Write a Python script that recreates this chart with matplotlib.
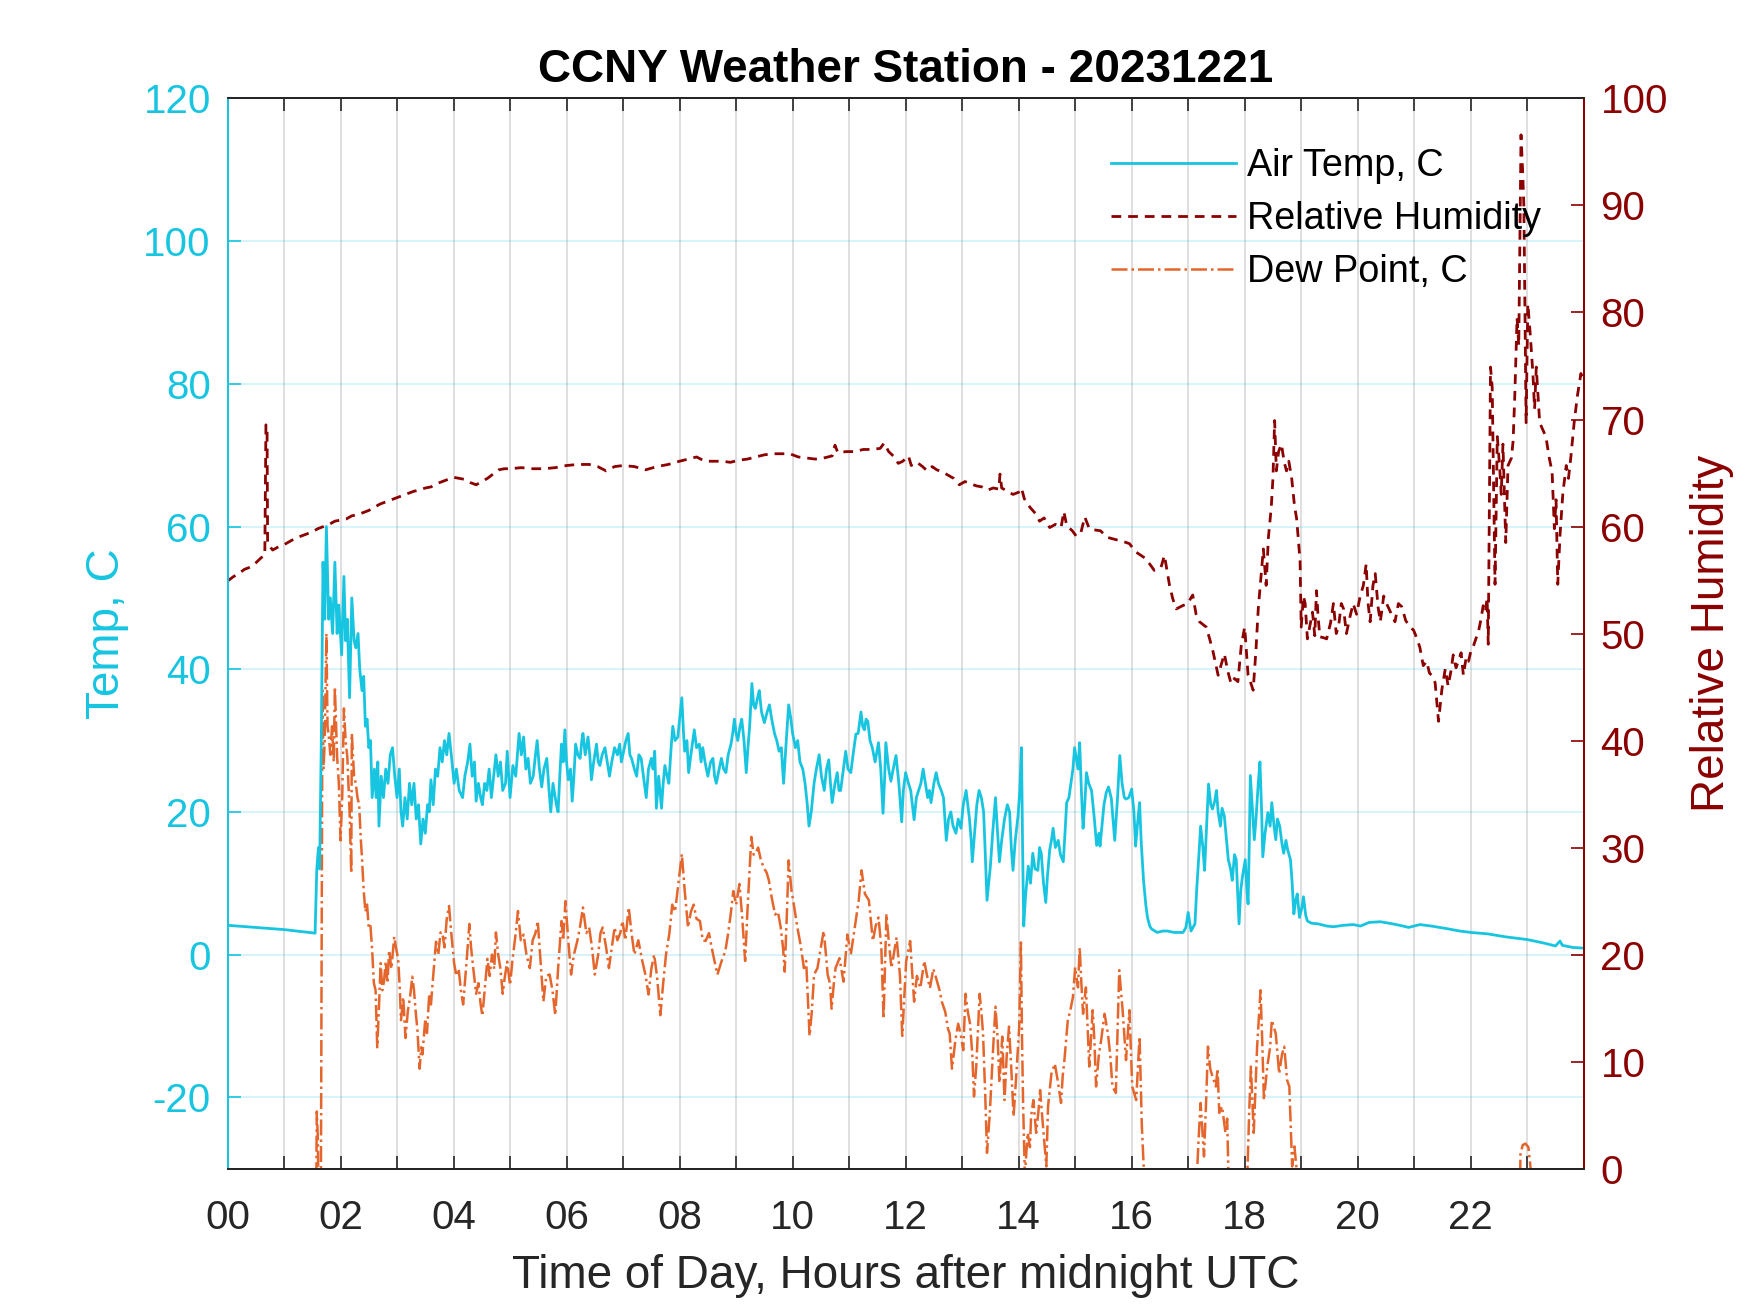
import matplotlib
matplotlib.use("Agg")
import matplotlib.pyplot as plt
from matplotlib.ticker import FixedLocator

# ---------------- data (hours after midnight UTC) ----------------
t_temp = [0.0, 0.5, 1.0, 1.55, 1.58, 1.61, 1.63, 1.66, 1.69, 1.72, 1.75, 1.79, 1.82, 1.86, 1.9, 1.94, 1.97,
          2.02, 2.06, 2.09, 2.12, 2.16, 2.2, 2.24, 2.27, 2.31, 2.34, 2.38, 2.41, 2.44, 2.47, 2.5, 2.53, 2.56,
          2.6, 2.63, 2.66, 2.68, 2.72, 2.76, 2.8, 2.84, 2.88, 2.92, 2.96, 3.0, 3.04, 3.07, 3.1, 3.14, 3.18,
          3.22, 3.26, 3.3, 3.34, 3.38, 3.42, 3.46, 3.5, 3.54, 3.57, 3.6, 3.64, 3.68, 3.72, 3.76, 3.8, 3.84,
          3.88, 3.92, 3.96, 4.01, 4.05, 4.1, 4.16, 4.2, 4.25, 4.29, 4.33, 4.37, 4.4, 4.44, 4.48, 4.51, 4.55,
          4.59, 4.63, 4.67, 4.71, 4.75, 4.79, 4.83, 4.87, 4.92, 4.95, 5.0, 5.05, 5.1, 5.16, 5.2, 5.24, 5.28,
          5.32, 5.36, 5.41, 5.45, 5.48, 5.52, 5.56, 5.6, 5.65, 5.69, 5.72, 5.76, 5.79, 5.82, 5.85, 5.88, 5.91,
          5.94, 5.97, 6.0, 6.03, 6.07, 6.1, 6.13, 6.16, 6.2, 6.24, 6.27, 6.29, 6.33, 6.38, 6.41, 6.44, 6.48,
          6.53, 6.56, 6.59, 6.63, 6.68, 6.72, 6.76, 6.8, 6.85, 6.9, 6.94, 6.97, 7.01, 7.05, 7.09, 7.12, 7.15,
          7.2, 7.24, 7.28, 7.32, 7.36, 7.41, 7.45, 7.5, 7.53, 7.56, 7.59, 7.63, 7.68, 7.71, 7.74, 7.78, 7.81,
          7.85, 7.88, 7.92, 7.97, 8.0, 8.04, 8.07, 8.09, 8.13, 8.16, 8.2, 8.26, 8.3, 8.35, 8.38, 8.41, 8.45,
          8.5, 8.55, 8.59, 8.62, 8.65, 8.7, 8.74, 8.78, 8.82, 8.86, 8.91, 8.94, 8.97, 9.0, 9.03, 9.07, 9.1,
          9.14, 9.18, 9.21, 9.24, 9.28, 9.31, 9.34, 9.38, 9.41, 9.45, 9.5, 9.55, 9.59, 9.63, 9.68, 9.72, 9.76,
          9.8, 9.84, 9.88, 9.93, 9.97, 10.0, 10.05, 10.09, 10.13, 10.18, 10.22, 10.26, 10.29, 10.33, 10.38,
          10.42, 10.47, 10.51, 10.56, 10.6, 10.64, 10.67, 10.7, 10.75, 10.79, 10.82, 10.85, 10.9, 10.94,
          10.98, 11.03, 11.07, 11.12, 11.16, 11.21, 11.24, 11.27, 11.3, 11.33, 11.37, 11.41, 11.46, 11.52,
          11.56, 11.6, 11.63, 11.65, 11.7, 11.74, 11.78, 11.83, 11.88, 11.93, 11.96, 12.0, 12.05, 12.09,
          12.12, 12.15, 12.19, 12.23, 12.27, 12.31, 12.35, 12.39, 12.42, 12.45, 12.5, 12.54, 12.58, 12.63,
          12.67, 12.72, 12.76, 12.8, 12.84, 12.89, 12.93, 12.98, 13.02, 13.07, 13.1, 13.13, 13.16, 13.18,
          13.22, 13.26, 13.3, 13.34, 13.38, 13.41, 13.44, 13.47, 13.5, 13.54, 13.59, 13.62, 13.66, 13.7,
          13.75, 13.8, 13.84, 13.87, 13.9, 13.94, 13.99, 14.02, 14.05, 14.07, 14.09, 14.12, 14.17, 14.21,
          14.25, 14.29, 14.34, 14.37, 14.4, 14.44, 14.48, 14.51, 14.55, 14.58, 14.61, 14.65, 14.7, 14.74,
          14.79, 14.82, 14.85, 14.89, 14.93, 14.96, 14.99, 15.02, 15.05, 15.08, 15.11, 15.14, 15.17, 15.2,
          15.24, 15.29, 15.34, 15.38, 15.42, 15.44, 15.47, 15.51, 15.55, 15.59, 15.64, 15.67, 15.7, 15.75,
          15.79, 15.83, 15.87, 15.9, 15.95, 16.0, 16.04, 16.07, 16.1, 16.14, 16.17, 16.21, 16.25, 16.28,
          16.32, 16.35, 16.45, 16.55, 16.63, 16.75, 16.91, 16.96, 17.0, 17.05, 17.12, 17.15, 17.19, 17.22,
          17.26, 17.29, 17.32, 17.36, 17.4, 17.43, 17.47, 17.5, 17.53, 17.57, 17.6, 17.64, 17.68, 17.71,
          17.75, 17.78, 17.82, 17.85, 17.88, 17.9, 17.93, 17.96, 18.01, 18.04, 18.06, 18.08, 18.1, 18.14,
          18.17, 18.2, 18.24, 18.27, 18.3, 18.32, 18.36, 18.41, 18.45, 18.48, 18.52, 18.55, 18.58, 18.62,
          18.66, 18.69, 18.73, 18.76, 18.81, 18.84, 18.87, 18.9, 18.93, 18.97, 19.01, 19.04, 19.08, 19.11,
          19.18, 19.3, 19.45, 19.57, 19.75, 19.92, 20.05, 20.2, 20.4, 20.62, 20.8, 20.9, 21.1, 21.3, 21.6,
          21.8, 22.0, 22.3, 22.6, 23.0, 23.3, 23.5, 23.58, 23.62, 23.8, 24.0]
temp = [4.1, 3.8, 3.5, 3.0, 12, 15, 12, 30, 55, 47, 60, 47, 50, 45, 55, 45, 49,
        42, 53, 44, 47, 36, 50, 44, 43, 45, 40, 37, 39, 32, 33, 29, 30, 22,
        26, 22, 27, 18, 25, 22, 26, 24, 28, 29, 25, 22, 26, 20, 18, 22, 19,
        24, 21, 24, 19, 21, 15.5, 19, 17, 21, 20, 24.5, 21, 26, 25, 29, 27, 30,
        28, 31, 28, 24, 26, 23, 22, 25, 27, 29.5, 25, 27, 21.5, 24, 22, 21, 24,
        23, 26, 22, 25, 28, 25, 27, 23, 24, 28.5, 22, 26.5, 25, 31, 28, 30.5, 26,
        27.5, 24, 25, 28, 30, 26, 23.5, 26, 27.5, 23, 20, 24, 22.5, 21, 20, 25, 29.5,
        27, 31.5, 27, 24.5, 26, 21.5, 25, 29.5, 28, 27.5, 30, 31, 28, 30.5, 28, 24.5, 27,
        29.5, 27, 26.5, 28, 29, 27, 25, 27, 29, 28, 29.5, 27, 28.5, 30, 31, 28, 27.5,
        26, 25, 28, 27.5, 25, 22, 26, 27.5, 26, 28.5, 20.5, 25, 20.5, 24, 26.5, 25, 24,
        29, 32, 30, 30.5, 33, 36, 31, 28.5, 30, 25.5, 28, 31.5, 29, 29.5, 27, 29, 27,
        25, 27, 27.5, 25, 24, 26, 27.5, 26, 25.5, 28, 29.5, 31, 33, 31, 30, 32, 33,
        30, 25.5, 29, 32, 38, 35, 34.5, 36, 37, 34, 32.5, 34, 35, 33, 31, 30, 28.5,
        29, 24, 29, 35, 33, 31, 29, 30, 27, 26, 24, 21, 18, 20, 24,
        26, 28, 25, 23, 26, 27.3, 24, 21.3, 24, 25.5, 23, 23, 26, 28.5,
        26, 25.5, 28, 30.9, 31, 34, 32, 31.5, 33, 32.7, 30, 29, 27, 29.7,
        26, 19.8, 25, 29.7, 26, 24.3, 26, 27.9, 24, 18.6, 23, 25.5, 24, 23,
        21, 18.9, 22, 23, 24, 26, 24, 22, 23, 21.3, 24, 25.5, 24, 23,
        22, 16, 19, 20, 18, 17, 19, 17.7, 21, 23, 21, 19, 16, 13,
        17, 21, 23, 22, 20, 14, 7.6, 10, 12.4, 17, 22, 18, 13, 16,
        19, 21, 20, 15, 11.8, 16, 19.5, 23, 29, 15, 4, 8, 12.4, 10,
        14.2, 12, 11.8, 15, 14.2, 10, 7.3, 11, 14.7, 16, 17.7, 15, 16, 14,
        13, 17, 21.3, 22, 24.3, 26, 29, 27.5, 26, 29.7, 23, 17.7, 21, 25.5,
        24, 23, 19, 15.3, 17, 15.2, 17.7, 21, 22.7, 23.5, 21.9, 19, 16, 22,
        27.9, 24, 22, 21.8, 22, 23.2, 20, 15.2, 18, 21.3, 15.6, 10.4, 7, 5.2,
        4, 3.6, 3.1, 3.3, 3.3, 3.1, 3.1, 3.8, 5.9, 3.3, 4.3, 9, 14, 18,
        15, 11.8, 17, 23.9, 21, 20.4, 21.5, 23, 20, 18, 20.5, 19.4, 16, 13.3,
        12, 10.4, 14, 13.3, 8, 4.3, 9, 10.9, 13.3, 9, 7.1, 15, 25.1, 20,
        16.1, 19, 24, 27, 20, 13.7, 17, 19.9, 18, 21.3, 18, 16.1, 19, 18,
        15.5, 14.2, 16, 14.7, 13.3, 10, 5.7, 7.5, 8.5, 5.2, 6.5, 8.1, 5.5, 4.7,
        4.4, 4.3, 4.0, 3.9, 4.1, 4.2, 4.0, 4.5, 4.6, 4.3, 4.0, 3.8, 4.2, 4.0, 3.6,
        3.3, 3.1, 2.9, 2.5, 2.1, 1.6, 1.2, 1.9, 1.3, 1.0, 0.9]

t_rh = [0.0, 0.1, 0.2, 0.3, 0.4, 0.5, 0.6, 0.66, 0.68, 0.7, 0.71, 0.8, 0.9, 1.0, 1.1, 1.2, 1.3, 1.4,
        1.5, 1.6, 1.7, 1.8, 1.9, 2.0, 2.1, 2.2, 2.3, 2.4, 2.5, 2.6, 2.7, 2.8, 2.9, 3.0, 3.1, 3.2, 3.3,
        3.4, 3.5, 3.6, 3.7, 3.8, 3.9, 4.0, 4.1, 4.2, 4.3, 4.4, 4.5, 4.6, 4.7, 4.8, 4.9, 5.0, 5.2, 5.4,
        5.6, 5.8, 6.0, 6.2, 6.4, 6.55, 6.7, 6.85, 7.0, 7.2, 7.4, 7.6, 7.8, 8.0, 8.15, 8.3, 8.45, 8.6,
        8.75, 8.9, 9.05, 9.2, 9.35, 9.5, 9.65, 9.8, 9.95, 10.1, 10.25, 10.4, 10.55, 10.7, 10.75, 10.8,
        10.95, 11.1, 11.25, 11.4, 11.55, 11.62, 11.7, 11.8, 11.87, 11.95, 12.05, 12.1, 12.2, 12.3,
        12.38, 12.47, 12.55, 12.65, 12.75, 12.85, 12.95, 13.05, 13.15, 13.25, 13.35, 13.45, 13.55,
        13.65, 13.67, 13.7, 13.8, 13.9, 14.0, 14.05, 14.1, 14.2, 14.3, 14.37, 14.45, 14.55, 14.65,
        14.75, 14.8, 14.85, 14.95, 15.02, 15.1, 15.17, 15.25, 15.32, 15.45, 15.56, 15.7, 15.85, 15.96,
        16.08, 16.25, 16.4, 16.52, 16.58, 16.67, 16.73, 16.79, 16.9, 16.99, 17.08, 17.14, 17.2, 17.32,
        17.38, 17.44, 17.53, 17.58, 17.64, 17.7, 17.76, 17.82, 17.88, 17.94, 18.0, 18.06, 18.1, 18.15,
        18.2, 18.24, 18.3, 18.33, 18.38, 18.42, 18.47, 18.5, 18.53, 18.56, 18.6, 18.65, 18.7, 18.74,
        18.78, 18.83, 18.88, 18.92, 18.98, 19.0, 19.04, 19.07, 19.11, 19.15, 19.2, 19.24, 19.27, 19.3,
        19.33, 19.4, 19.45, 19.52, 19.57, 19.62, 19.66, 19.71, 19.75, 19.8, 19.86, 19.92, 19.98, 20.04,
        20.1, 20.15, 20.18, 20.22, 20.27, 20.31, 20.36, 20.4, 20.46, 20.51, 20.58, 20.66, 20.72, 20.78,
        20.85, 20.93, 20.99, 21.05, 21.1, 21.16, 21.22, 21.27, 21.31, 21.37, 21.43, 21.49, 21.55, 21.6,
        21.65, 21.69, 21.74, 21.78, 21.83, 21.87, 21.92, 21.96, 22.0, 22.04, 22.09, 22.13, 22.18, 22.22,
        22.26, 22.29, 22.31, 22.35, 22.38, 22.43, 22.47, 22.51, 22.54, 22.57, 22.62, 22.66, 22.72, 22.75,
        22.78, 22.82, 22.85, 22.89, 22.92, 22.94, 22.98, 23.01, 23.05, 23.1, 23.13, 23.16, 23.22, 23.28,
        23.33, 23.39, 23.44, 23.48, 23.51, 23.54, 23.58, 23.63, 23.69, 23.73, 23.77, 23.83, 23.89, 23.95,
        23.99]
rh = [54.9, 55.3, 55.6, 56.0, 56.2, 56.6, 57.1, 57.3, 69.5, 69.0, 58.4, 57.8, 58.1, 58.3, 58.6, 58.9, 59.1, 59.3,
      59.5, 59.8, 60.0, 60.2, 60.5, 60.6, 60.7, 61.0, 61.1, 61.3, 61.5, 61.8, 62.1, 62.3, 62.5, 62.7, 62.9, 63.1, 63.3,
      63.4, 63.6, 63.7, 64.0, 64.2, 64.4, 64.6, 64.5, 64.4, 64.1, 63.9, 64.2, 64.5, 64.9, 65.3, 65.4, 65.4, 65.5, 65.4,
      65.4, 65.5, 65.7, 65.8, 65.8, 65.6, 65.2, 65.6, 65.7, 65.6, 65.3, 65.6, 65.8, 66.1, 66.3, 66.5, 66.1, 66.1,
      66.1, 66.0, 66.2, 66.3, 66.5, 66.7, 66.8, 66.8, 66.8, 66.5, 66.4, 66.3, 66.4, 66.6, 67.6, 66.9,
      67.0, 67.0, 67.2, 67.2, 67.3, 67.8, 67.0, 66.5, 65.9, 66.1, 66.6, 65.7, 66.0, 65.6,
      65.2, 65.6, 65.3, 65.1, 64.8, 64.5, 63.9, 64.2, 64.0, 63.8, 63.7, 63.4, 63.6,
      63.5, 64.9, 63.6, 63.3, 63.0, 63.2, 63.6, 62.6, 61.8, 61.2, 60.5, 60.8, 59.9, 60.2,
      59.9, 61.4, 60.1, 59.6, 59.1, 59.4, 60.9, 59.8, 59.7, 59.6, 59.0, 58.8, 58.6, 58.4,
      57.6, 57.0, 55.9, 56.2, 57.3, 54.5, 53.2, 52.3, 52.6, 52.8, 53.6, 51.8, 51.1, 50.6,
      49.5, 48.3, 46.1, 47.0, 48.1, 46.5, 45.3, 45.8, 45.5, 48.9, 50.6, 46.1, 45.5, 44.7,
      48.5, 52.3, 56.0, 57.9, 54.5, 59.0, 61.8, 64.5, 69.9, 65.2, 67.0, 67.7, 66.0, 65.2,
      66.1, 64.6, 62.0, 60.7, 56.8, 50.6, 53.5, 52.8, 49.5, 50.6, 52.0, 49.8, 54.0, 51.5,
      49.7, 49.6, 49.5, 51.0, 52.8, 50.0, 50.6, 52.8, 52.3, 50.0, 51.5, 52.8, 51.8, 53.4,
      54.5, 56.5, 53.0, 51.1, 54.5, 55.6, 52.5, 51.1, 53.5, 52.8, 52.0, 51.1, 52.8, 52.5,
      51.2, 50.6, 50.3, 49.5, 48.7, 47.0, 47.4, 46.3, 46.1, 45.4, 41.8, 44.8, 46.7, 45.1,
      46.5, 48.0, 46.8, 47.4, 48.2, 46.1, 47.8, 47.4, 48.3, 48.7, 49.5, 50.0, 51.3, 52.6,
      52.0, 53.3, 49.0, 74.9, 73.0, 54.6, 68.4, 65.7, 63.0, 67.7, 58.5, 65.7, 66.4, 68.0,
      72.3, 79.5, 76.9, 96.6, 93.0, 90.0, 69.7, 80.8, 78.2, 74.3, 71.0, 74.9, 69.7, 69.0,
      68.4, 66.4, 65.1, 59.8, 62.5, 54.6, 59.2, 63.1, 65.7, 64.5, 66.4, 69.7, 72.3, 74.3,
      73.6]

t_dew = [0.0, 1.56, 1.58, 1.6, 1.62, 1.65, 1.68, 1.7, 1.72, 1.75, 1.77, 1.79, 1.82, 1.85, 1.88, 1.9, 1.94,
         1.97, 2.0, 2.03, 2.06, 2.09, 2.12, 2.16, 2.19, 2.2, 2.24, 2.27, 2.3, 2.33, 2.36, 2.38, 2.41, 2.44,
         2.47, 2.5, 2.53, 2.56, 2.59, 2.62, 2.65, 2.68, 2.71, 2.74, 2.77, 2.8, 2.83, 2.86, 2.9, 2.95, 2.98,
         3.02, 3.05, 3.07, 3.11, 3.15, 3.19, 3.23, 3.27, 3.3, 3.33, 3.36, 3.4, 3.43, 3.45, 3.5, 3.53, 3.57,
         3.6, 3.64, 3.69, 3.73, 3.77, 3.8, 3.84, 3.88, 3.92, 3.96, 4.01, 4.05, 4.09, 4.13, 4.17, 4.21, 4.24,
         4.28, 4.31, 4.35, 4.4, 4.44, 4.48, 4.51, 4.55, 4.6, 4.64, 4.68, 4.72, 4.75, 4.79, 4.83, 4.87, 4.91,
         4.95, 5.0, 5.04, 5.1, 5.14, 5.19, 5.24, 5.29, 5.35, 5.4, 5.45, 5.49, 5.54, 5.59, 5.64, 5.7, 5.75,
         5.8, 5.85, 5.91, 5.94, 5.98, 6.03, 6.08, 6.13, 6.19, 6.24, 6.29, 6.35, 6.4, 6.45, 6.5, 6.56, 6.6,
         6.64, 6.7, 6.75, 6.8, 6.85, 6.9, 6.95, 6.99, 7.04, 7.1, 7.15, 7.2, 7.27, 7.34, 7.4, 7.45, 7.5,
         7.55, 7.6, 7.66, 7.71, 7.76, 7.82, 7.87, 7.92, 7.97, 8.04, 8.09, 8.15, 8.2, 8.25, 8.3, 8.36, 8.41,
         8.46, 8.52, 8.57, 8.62, 8.67, 8.74, 8.81, 8.86, 8.91, 8.95, 9.0, 9.06, 9.11, 9.16, 9.2, 9.24, 9.27,
         9.31, 9.34, 9.39, 9.44, 9.5, 9.54, 9.58, 9.63, 9.69, 9.74, 9.79, 9.83, 9.86, 9.9, 9.93, 9.98,
         10.03, 10.08, 10.14, 10.2, 10.24, 10.3, 10.34, 10.38, 10.44, 10.5, 10.55, 10.59, 10.62, 10.66,
         10.69, 10.73, 10.76, 10.83, 10.9, 10.97, 11.03, 11.1, 11.17, 11.22, 11.28, 11.35, 11.42, 11.47,
         11.52, 11.57, 11.61, 11.66, 11.7, 11.75, 11.84, 11.9, 11.94, 12.01, 12.08, 12.15, 12.2, 12.26,
         12.33, 12.38, 12.43, 12.49, 12.54, 12.6, 12.64, 12.7, 12.75, 12.78, 12.82, 12.84, 12.88, 12.93,
         12.97, 13.02, 13.06, 13.1, 13.14, 13.18, 13.21, 13.25, 13.31, 13.34, 13.37, 13.41, 13.44, 13.49,
         13.55, 13.59, 13.63, 13.66, 13.71, 13.75, 13.79, 13.83, 13.87, 13.91, 13.96, 14.01, 14.04, 14.06,
         14.08, 14.11, 14.16, 14.2, 14.22, 14.26, 14.31, 14.35, 14.38, 14.43, 14.49, 14.52, 14.55, 14.58,
         14.64, 14.69, 14.75, 14.78, 14.81, 14.87, 14.91, 14.96, 15.0, 15.05, 15.08, 15.11, 15.14, 15.19,
         15.22, 15.25, 15.31, 15.34, 15.37, 15.42, 15.46, 15.52, 15.58, 15.62, 15.66, 15.72, 15.78, 15.84,
         15.9, 15.96, 16.01, 16.08, 16.14, 16.18, 16.22, 16.26, 17.12, 17.16, 17.19, 17.22, 17.28, 17.32,
         17.35, 17.39, 17.43, 17.49, 17.52, 17.55, 17.6, 17.66, 17.69, 17.71, 17.74, 18.02, 18.05, 18.08,
         18.11, 18.16, 18.22, 18.28, 18.31, 18.34, 18.4, 18.45, 18.48, 18.55, 18.61, 18.66, 18.7, 18.75,
         18.79, 18.84, 18.88, 18.93, 18.96, 22.85, 22.88, 22.92, 22.97, 23.02, 23.06, 23.08, 24.0]
dew = [-45, -45, -22, -26, -45, -40, 37, 26, 30, 45, 32, 30.8, 28, 32, 27, 37.5, 27.7,
       24, 16, 22, 34.5, 30, 27.7, 20, 11.4, 31, 25, 24, 22, 21, 16, 13.5, 9, 6,
       7, 3.7, 4, 0.6, -4, -5, -13, -7.4, -1.2, -5, -3.7, -1, -4, 0.6, -2, 2.5, 1,
       -0.6, -5, -9.2, -6, -11.7, -8, -6, -3.1, -5, -8, -10.5, -16, -13, -14, -9, -11, -5.5,
       -7, -3, 1.8, 0, 3.1, 3.1, 1, 5, 6.8, 3, -1.2, -3, -2, -5, -7, -3, 0,
       4.3, 1, -2, -5.5, -4, -7, -8.6, -5, -0.6, -3, 0, -2, 3.1, 0, -2, -5.5, -3,
       -1, -4.3, -1, 3, 6.1, 2, 2.8, 0, -1.9, 2, 3, 4.7, -1, -6.6, -3, -2.8, -5,
       -8.5, -2, 4.7, 2, 7.5, 2, -2.8, 0, 1.9, 4, 6.6, 3, 3.8, 1, -2.8, 0, 3,
       3.8, 1, -1.9, 1, 3.8, 2, 3, 4.7, 2, 6.6, 3, 0, 2, -0.9, -3, -5.6, -2,
       0, -3, -8.5, -4, 0, 3, 7, 6, 9.4, 14.1, 9, 3.8, 6, 7, 5, 4.7, 2,
       1.9, 3, 0.9, -1, -2.8, -1, 0.5, 3, 6, 8.9, 7, 9.9, 5, -0.9, 6, 12, 16.5,
       14, 14.1, 15, 13.2, 12, 11.5, 10.4, 8, 5.6, 6, 3.8, 1, -2.4, 6, 13.2, 9,
       6.6, 4, 1.4, -1.9, -0.9, -11.4, -8, -2.8, -1.9, 1, 3.3, 0, -2.8, -4,
       -7.6, -4, -1.9, -0.5, -3.8, 2.8, 0, 3.8, 7.6, 11.8, 8.5, 7.6, 1.9, 4,
       5.2, 1, -9, 5.7, 2, -1.9, 2.4, -3, -11.4, -0.9, 1.9, -6.6, -3, -4.7,
       -0.9, -3, -4.7, -2, -3.3, -5, -6.6, -8, -10.4, -11.1, -16, -14.8, -12, -9.7,
       -11, -13.4, -5.5, -8, -9.7, -14, -19.9, -15.7, -5.5, -8, -11.1, -20, -27.8, -22.2,
       -12.9, -7.3, -12, -18, -11.5, -20.4, -14, -10.1, -16, -22.7, -16.7, -10.1, 1.7, -12,
       -21.3, -31, -25, -27, -22.7, -20.4, -25, -22, -19, -24, -29.7, -21.3, -19, -16.7,
       -15.3, -17.6, -20.8, -17, -14.8, -9.2, -8, -6, -1.8, -4.6, 1, -4, -8.3, -4.6,
       -10, -15.7, -7.8, -12, -18.5, -14, -12, -8.3, -11.1, -14, -18.5, -19.4, -2.2, -7.8,
       -14.8, -7.8, -18.5, -20.4, -11.5, -24, -31, -45, -45, -30, -25, -20.8, -28.3, -20,
       -12.9, -16, -17.1, -18.5, -16, -22.2, -21.3, -25, -23, -30, -45, -45, -30, -22,
       -15.7, -25, -12.9, -5, -12, -20.4, -15.7, -13, -9.2, -11.1, -16.7, -14, -12.9, -17.6,
       -18.5, -29.7, -26.9, -31, -45, -45, -28, -26.7, -26.5, -27, -30, -45, -45]

hour_ticks = list(range(0, 25))
hour_labels = ["%02d" % h if (h % 2 == 0 and h < 24) else "" for h in hour_ticks]
temp_ticks = [-20, 0, 20, 40, 60, 80, 100, 120]
rh_ticks = [0, 10, 20, 30, 40, 50, 60, 70, 80, 90, 100]

# ---------------- style ----------------
FONT = ["Liberation Sans", "DejaVu Sans"]
plt.rcParams["font.family"] = FONT
plt.rcParams["axes.unicode_minus"] = False
C_T = "#17C5E0"
C_RH = "#8B0000"
C_DP = "#E5662C"
C_AX = "#262626"

fig = plt.figure(figsize=(8.75, 6.565), dpi=200)
ax = fig.add_axes([0.13, 0.11, 0.775, 0.815])
ax2 = ax.twinx()

l1, = ax.plot(t_temp, temp, color=C_T, lw=1.0, label="Air Temp, C", zorder=3)
l3, = ax.plot(t_dew, dew, color=C_DP, lw=0.9, linestyle="-.", label="Dew Point, C", zorder=2)
l2, = ax2.plot(t_rh, rh, color=C_RH, lw=1.0, linestyle=(0, (3.5, 2.5)), label="Relative Humidity")

ax.set_xlim(0, 24)
ax.set_ylim(-30, 120)
ax2.set_ylim(0, 100)

ax.xaxis.set_major_locator(FixedLocator(hour_ticks))
ax.set_xticklabels(hour_labels)
ax.yaxis.set_major_locator(FixedLocator(temp_ticks))
ax2.yaxis.set_major_locator(FixedLocator(rh_ticks))

fs_tick = 14.5
ax.tick_params(axis="x", direction="in", length=4.8, width=0.6, colors=C_AX, labelsize=fs_tick,
               top=True, pad=11)
ax.tick_params(axis="y", direction="in", length=4.8, width=0.6, colors=C_T, labelsize=fs_tick, pad=6)
ax2.tick_params(axis="y", direction="in", length=4.8, width=0.6, colors=C_RH, labelsize=fs_tick, pad=6)
ax2.tick_params(axis="x", top=False, bottom=False)

for a in (ax, ax2):
    a.spines["left"].set_color(C_T)
    a.spines["right"].set_color(C_RH)
    a.spines["top"].set_color(C_AX)
    a.spines["bottom"].set_color(C_AX)
    for s in a.spines.values():
        s.set_linewidth(0.7)

ax.set_axisbelow(True)
ax.xaxis.grid(True, color=C_AX, alpha=0.15, lw=0.7)
ax.yaxis.grid(True, color=C_T, alpha=0.18, lw=0.7)

ax.set_xlabel("Time of Day, Hours after midnight UTC", fontsize=16.5, color=C_AX, labelpad=6)
ax.set_ylabel("Temp, C", fontsize=16.5, color=C_T, labelpad=5)
ax2.set_ylabel("Relative Humidity", fontsize=16.5, color=C_RH, labelpad=8)
ax.set_title("CCNY Weather Station - 20231221", fontsize=16.5, fontweight="bold", color="black", pad=6)

leg = ax2.legend(handles=[l1, l2, l3], loc="upper left", bbox_to_anchor=(0.635, 0.887),
                 bbox_transform=fig.transFigure, frameon=False, fontsize=13.6,
                 handlelength=3.3, handletextpad=0.3, labelspacing=0.45, borderpad=0, borderaxespad=0)

fig.savefig("out.png", dpi=200, facecolor="white")
